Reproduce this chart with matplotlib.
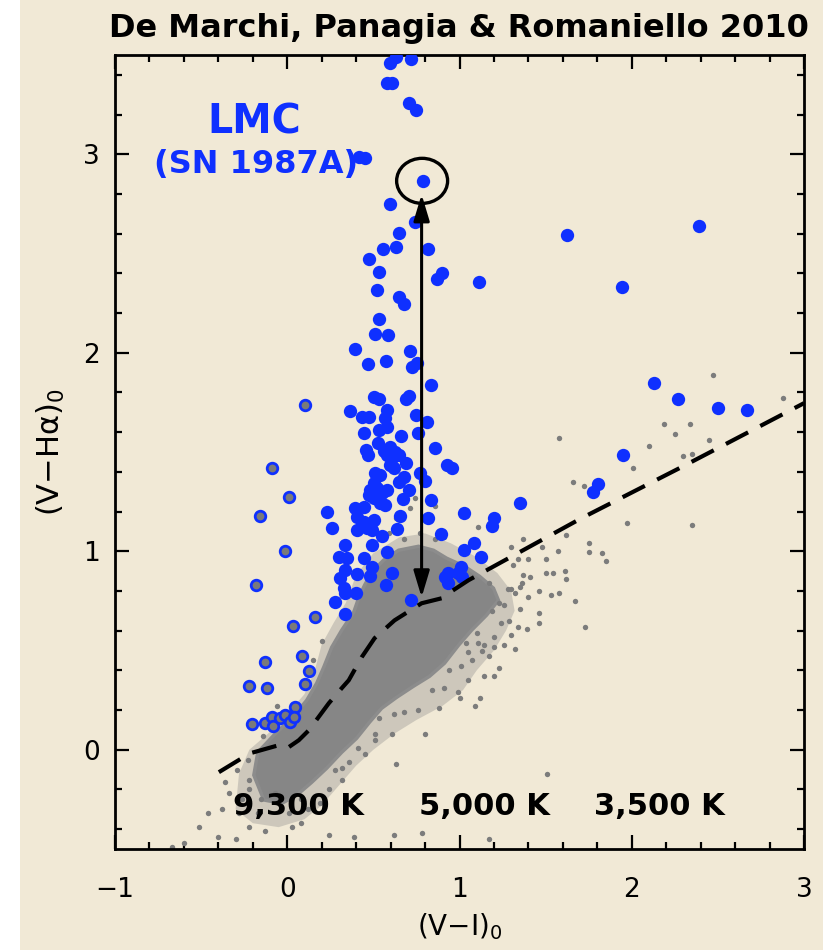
import matplotlib
matplotlib.use('Agg')
import matplotlib.pyplot as plt
from matplotlib.patches import Polygon, Ellipse, Rectangle
from matplotlib.ticker import MultipleLocator
import numpy as np

plt.rcParams['font.family'] = ['DejaVu Sans']

# ---------------- data ----------------
# Halpha-excess stars (filled blue)
blue_pts = [
    (0.594, 3.458), (0.629, 3.489), (0.716, 3.479), (0.577, 3.358), (0.606, 3.358),
    (0.704, 3.257), (0.745, 3.222), (0.414, 2.985), (0.449, 2.980), (0.791, 2.864),
    (0.594, 2.748), (0.739, 2.657), (0.646, 2.602), (0.554, 2.521), (0.629, 2.531),
    (0.820, 2.521), (0.472, 2.471), (0.530, 2.406), (0.872, 2.370), (0.901, 2.401),
    (1.116, 2.355), (0.519, 2.315), (0.646, 2.280), (0.675, 2.244), (0.530, 2.169),
    (0.507, 2.093), (0.583, 2.088), (0.391, 2.018), (0.710, 2.008), (0.467, 1.942),
    (0.571, 1.957), (0.722, 1.927), (0.751, 1.947), (0.832, 1.836), (0.501, 1.776),
    (0.530, 1.766), (0.687, 1.766), (0.704, 1.781), (0.362, 1.705), (0.432, 1.675),
    (0.472, 1.675), (0.577, 1.710), (0.565, 1.670), (0.745, 1.685), (0.814, 1.650),
    (0.443, 1.594), (0.530, 1.610), (0.577, 1.625), (0.658, 1.579), (0.757, 1.594),
    (0.525, 1.544), (0.455, 1.509), (0.467, 1.484), (0.559, 1.504), (0.594, 1.524),
    (0.623, 1.499), (0.577, 1.484), (0.606, 1.469), (0.646, 1.484), (0.855, 1.519),
    (0.687, 1.443), (0.594, 1.433), (0.617, 1.418), (0.930, 1.433), (0.954, 1.418),
    (0.507, 1.393), (0.536, 1.383), (0.768, 1.393), (0.797, 1.353), (0.675, 1.373),
    (0.646, 1.348), (0.501, 1.343), (0.478, 1.307), (0.519, 1.317), (0.548, 1.292),
    (0.577, 1.307), (0.472, 1.282), (0.501, 1.267), (0.704, 1.307), (0.536, 1.242),
    (0.565, 1.232), (0.670, 1.262), (0.832, 1.257), (0.229, 1.196), (0.391, 1.217),
    (0.443, 1.222), (0.403, 1.171), (0.652, 1.176), (0.820, 1.166), (1.029, 1.191),
    (1.203, 1.166), (1.186, 1.126), (0.258, 1.116), (0.443, 1.146), (0.472, 1.136),
    (0.501, 1.156), (0.403, 1.106), (0.461, 1.116), (0.490, 1.106), (0.635, 1.111),
    (0.890, 1.086), (0.548, 1.076), (0.333, 1.030), (0.490, 1.030), (1.087, 1.040),
    (1.029, 1.005), (0.299, 0.970), (0.345, 0.965), (0.443, 0.965), (0.577, 0.995),
    (1.122, 0.970), (0.333, 0.904), (0.490, 0.919), (0.606, 0.889), (0.936, 0.889),
    (1.006, 0.919), (0.304, 0.864), (0.403, 0.884), (0.478, 0.874), (0.571, 0.829),
    (0.328, 0.814), (0.333, 0.788), (0.397, 0.788), (0.994, 0.889), (0.913, 0.869),
    (0.936, 0.839), (1.012, 0.869), (0.275, 0.743), (0.333, 0.683), (0.716, 0.753),
    (2.130, 1.846), (2.270, 1.766), (2.501, 1.720), (2.670, 1.710), (1.951, 1.484),
    (1.806, 1.338), (1.777, 1.297), (1.354, 1.242), (1.626, 2.592), (2.391, 2.637),
    (1.945, 2.330),
]

# young blue stars (blue ring, grey centre)
ring_pts = [
    (0.101, 1.736), (-0.090, 1.418), (0.009, 1.272), (-0.159, 1.176), (-0.014, 1.000),
    (-0.183, 0.829), (0.032, 0.622), (0.159, 0.668), (-0.130, 0.441), (0.084, 0.471),
    (0.125, 0.395), (-0.223, 0.320), (-0.119, 0.310), (0.101, 0.330), (0.043, 0.214),
    (-0.206, 0.128), (-0.130, 0.134), (-0.090, 0.164), (-0.084, 0.118), (-0.043, 0.159),
    (-0.014, 0.174), (0.014, 0.139), (0.038, 0.164),
]

# envelope of the densely populated part of the field-star sequence
core_x = [-0.136, -0.194, -0.171, -0.078, 0.026, 0.113, 0.171, 0.212, 0.258, 0.316,
          0.386, 0.414, 0.449, 0.490, 0.559, 0.646, 0.762, 0.849, 0.925, 1.029,
          1.116, 1.197, 1.226, 1.157, 1.070, 0.994, 0.913, 0.826, 0.733, 0.635,
          0.548, 0.478, 0.403, 0.316, 0.229, 0.142, 0.055, -0.032]
core_y = [-0.253, -0.128, -0.013, 0.073, 0.159, 0.249, 0.335, 0.416, 0.516, 0.602,
          0.693, 0.763, 0.829, 0.894, 0.955, 1.005, 1.025, 1.005, 0.965, 0.924,
          0.874, 0.814, 0.753, 0.678, 0.602, 0.526, 0.436, 0.370, 0.320, 0.264,
          0.209, 0.139, 0.058, -0.013, -0.093, -0.164, -0.229, -0.270]

# envelope of the moderately populated outskirts of the sequence
halo_x = [-0.30, -0.28, -0.22, -0.10, 0.00, 0.10, 0.16, 0.20, 0.27, 0.34,
          0.40, 0.50, 0.65, 0.80, 0.95, 1.10, 1.22, 1.30, 1.32, 1.27,
          1.20, 1.10, 1.02, 0.90, 0.75, 0.62, 0.50, 0.40, 0.30, 0.20,
          0.10, -0.05, -0.20]
halo_y = [-0.30, -0.12, 0.00, 0.09, 0.18, 0.28, 0.40, 0.53, 0.64, 0.74,
          0.88, 0.99, 1.07, 1.09, 1.04, 0.97, 0.89, 0.80, 0.70, 0.60,
          0.50, 0.40, 0.30, 0.22, 0.15, 0.08, 0.00, -0.08, -0.18, -0.28,
          -0.35, -0.39, -0.37]

# individual field stars outside the dense envelope
gray_pts = [
    (2.47, 1.89), (2.88, 1.77), (1.58, 1.57), (2.19, 1.64), (2.34, 1.64), (2.25, 1.59),
    (2.45, 1.56), (2.10, 1.53), (2.30, 1.48), (2.35, 1.49), (2.01, 1.42), (1.66, 1.35),
    (1.72, 1.33), (1.97, 1.14), (2.35, 1.13), (1.62, 1.08), (1.75, 1.04), (1.75, 0.995),
    (1.83, 0.99), (1.85, 0.95), (1.57, 1.00), (1.48, 1.02), (1.37, 1.06), (1.30, 1.02),
    (1.50, 0.96), (1.40, 0.96), (1.34, 0.96), (1.50, 0.89), (1.54, 0.89), (1.61, 0.90),
    (1.62, 0.86), (1.37, 0.88), (1.41, 0.87), (1.31, 0.93), (1.35, 0.82), (1.30, 0.81),
    (1.46, 0.80), (1.53, 0.78), (1.58, 0.79), (1.40, 0.77), (1.67, 0.75), (1.35, 0.71),
    (1.46, 0.69), (1.46, 0.64), (1.34, 0.62), (1.39, 0.61), (1.73, 0.62), (1.30, 0.58),
    (1.24, 0.64), (1.20, 0.57), (1.26, 0.53), (1.14, 0.53), (1.11, 0.54), (1.04, 0.54),
    (1.10, 0.59), (1.19, 0.70), (1.23, 0.74), (1.28, 0.81), (1.17, 0.84), (1.11, 1.12),
    (1.36, 0.84), (1.26, 0.73), (1.32, 0.79), (1.13, 0.50), (1.07, 0.45), (1.17, 0.47),
    (1.01, 0.42), (1.23, 0.41), (1.05, 0.35), (1.12, 0.26), (1.09, 0.22), (0.99, 0.29),
    (0.91, 0.31), (0.84, 0.30), (0.88, 0.21), (0.76, 0.20), (0.68, 0.19), (0.63, -0.07),
    (0.80, 0.08), (0.61, 0.08), (0.51, 0.08), (0.41, 0.01), (0.36, -0.06), (0.28, -0.10),
    (0.45, -0.02), (1.00, 0.26), (1.20, 0.37), (1.29, 0.65), (1.14, 0.37), (0.94, 0.40),
    (0.24, -0.43), (0.08, -0.37), (0.03, -0.39), (-0.13, -0.41), (-0.22, -0.39),
    (-0.30, -0.45), (-0.40, -0.44), (-0.51, -0.39), (-0.60, -0.47), (-0.67, -0.49),
    (-0.46, -0.32), (-0.38, -0.30), (-0.28, -0.32), (-0.17, -0.32), (0.01, -0.32),
    (0.12, -0.30), (0.19, -0.27), (0.24, -0.20), (0.32, -0.15), (0.51, 0.05),
    (0.62, 0.18), (0.53, 0.16), (-0.22, -0.20), (-0.26, -0.25), (-0.36, -0.16),
    (-0.34, -0.22), (0.32, -0.09), (0.39, -0.44), (0.62, -0.43), (1.17, -0.45),
    (0.78, -0.42), (1.05, 0.49), (1.32, 0.51), (1.20, 0.52), (1.51, -0.12),
    (-0.06, 0.22), (-0.14, 0.07), (-0.23, -0.05), (-0.29, -0.10), (0.20, 0.55),
    (0.15, 0.45), (-0.22, -0.15), (-0.15, -0.25), (-0.07, -0.22), (0.08, -0.25),
    (0.72, 1.32), (0.74, 1.27), (0.71, 1.22), (0.86, 1.23), (0.63, 1.17), (0.59, 1.09),
    (0.68, 1.06), (0.77, 1.09), (0.86, 1.06), (0.91, 1.07),
]

# model reference line (no H-alpha excess)
ref_x = [-0.397, -0.217, -0.049, 0.0, 0.067, 0.125, 0.241, 0.316, 0.357, 0.432,
         0.507, 0.623, 0.780, 0.896, 0.936, 1.052, 1.243, 1.707, 2.287, 3.0]
ref_y = [-0.113, -0.018, 0.023, 0.008, 0.048, 0.098, 0.234, 0.310, 0.350, 0.466,
         0.562, 0.652, 0.738, 0.763, 0.788, 0.854, 0.945, 1.166, 1.423, 1.746]

# highlighted star and its excess arrow
star_x, star_y = 0.791, 2.864
arrow_x, arrow_y0, arrow_y1 = 0.780, 0.768, 2.798

temp_labels = ['9,300 K', '5,000 K', '3,500 K']
temp_x = [0.064, 1.145, 2.162]

x_ticks = [-1, 0, 1, 2, 3]
y_ticks = [0, 1, 2, 3]

# ---------------- style ----------------
BG = '#f1e9d6'
BLUE = '#0f30ff'
GRAY = '#7c7c7c'

fig = plt.figure(figsize=(8.23, 9.5), dpi=100, facecolor=BG)
fig.add_artist(Rectangle((0, 0), 20 / 823, 1, transform=fig.transFigure,
                         facecolor='white', edgecolor='none', zorder=-10))
ax = fig.add_axes([115 / 823, 101 / 950, 689 / 823, 794 / 950])
ax.set_facecolor(BG)
ax.set_xlim(-1, 3)
ax.set_ylim(-0.5, 3.5)

ax.add_patch(Polygon(np.column_stack([halo_x, halo_y]), closed=True,
                     facecolor='#8a8a8a', edgecolor='none', alpha=0.35, zorder=1))
ax.add_patch(Polygon(np.column_stack([core_x, core_y]), closed=True,
                     facecolor='#868686', edgecolor='#8c8c8c', lw=2.5, zorder=1))
gx, gy = zip(*gray_pts)
ax.scatter(gx, gy, s=15, c=GRAY, linewidths=0, zorder=2)

bx, by = zip(*blue_pts)
ax.scatter(bx, by, s=92, c=BLUE, linewidths=0, zorder=3)
rx, ry = zip(*ring_pts)
ax.scatter(rx, ry, s=58, facecolor='#7a7a7a', edgecolor=BLUE, linewidths=2.0, zorder=3)

ax.plot(ref_x, ref_y, color='k', lw=3, dashes=(6, 3.3), dash_capstyle='butt', zorder=4)

ax.annotate('', xy=(arrow_x, arrow_y1), xytext=(arrow_x, arrow_y0),
            arrowprops=dict(arrowstyle='<|-|>,head_length=1.0,head_width=0.3',
                            mutation_scale=16, lw=2.2, color='k',
                            shrinkA=0, shrinkB=0), zorder=5)
ax.add_patch(Ellipse((star_x - 0.008, star_y + 0.002), 0.296, 0.227, fill=False,
                     lw=2.4, ec='k', zorder=5))

ax.text(-0.194, 3.106, 'LMC', color=BLUE, fontsize=28.5, fontweight='bold',
        ha='center', va='baseline', zorder=6)
ax.text(-0.183, 2.904, '(SN 1987A)', color=BLUE, fontsize=23, fontweight='bold',
        ha='center', va='baseline', zorder=6)
for lab, tx in zip(temp_labels, temp_x):
    ax.text(tx, -0.330, lab, color='k', fontsize=22, fontweight='bold',
            ha='center', va='baseline', zorder=6)

fig.text(0.558, 0.961, 'De Marchi, Panagia & Romaniello 2010', fontsize=23,
         fontweight='bold', ha='center', va='baseline')

ax.set_xticks(x_ticks)
ax.set_yticks(y_ticks)
ax.xaxis.set_minor_locator(MultipleLocator(0.2))
ax.yaxis.set_minor_locator(MultipleLocator(0.2))
ax.tick_params(which='both', direction='in', top=True, right=True, width=1.6, colors='k')
ax.tick_params(which='major', length=10)
ax.tick_params(which='minor', length=5)
ax.tick_params(axis='x', pad=20, labelsize=19)
ax.tick_params(axis='y', pad=11, labelsize=19)
for sp in ax.spines.values():
    sp.set_linewidth(2.0)

ax.set_xlabel('(V\u2212I)$_0$', fontsize=20)
ax.set_ylabel('(V\u2212H$\\mathrm{\\alpha}$)$_0$', fontsize=22)
ax.xaxis.set_label_coords(0.5, -0.078)
ax.yaxis.set_label_coords(-0.07, 0.5)

fig.savefig('out.png', dpi=100, facecolor=BG)
